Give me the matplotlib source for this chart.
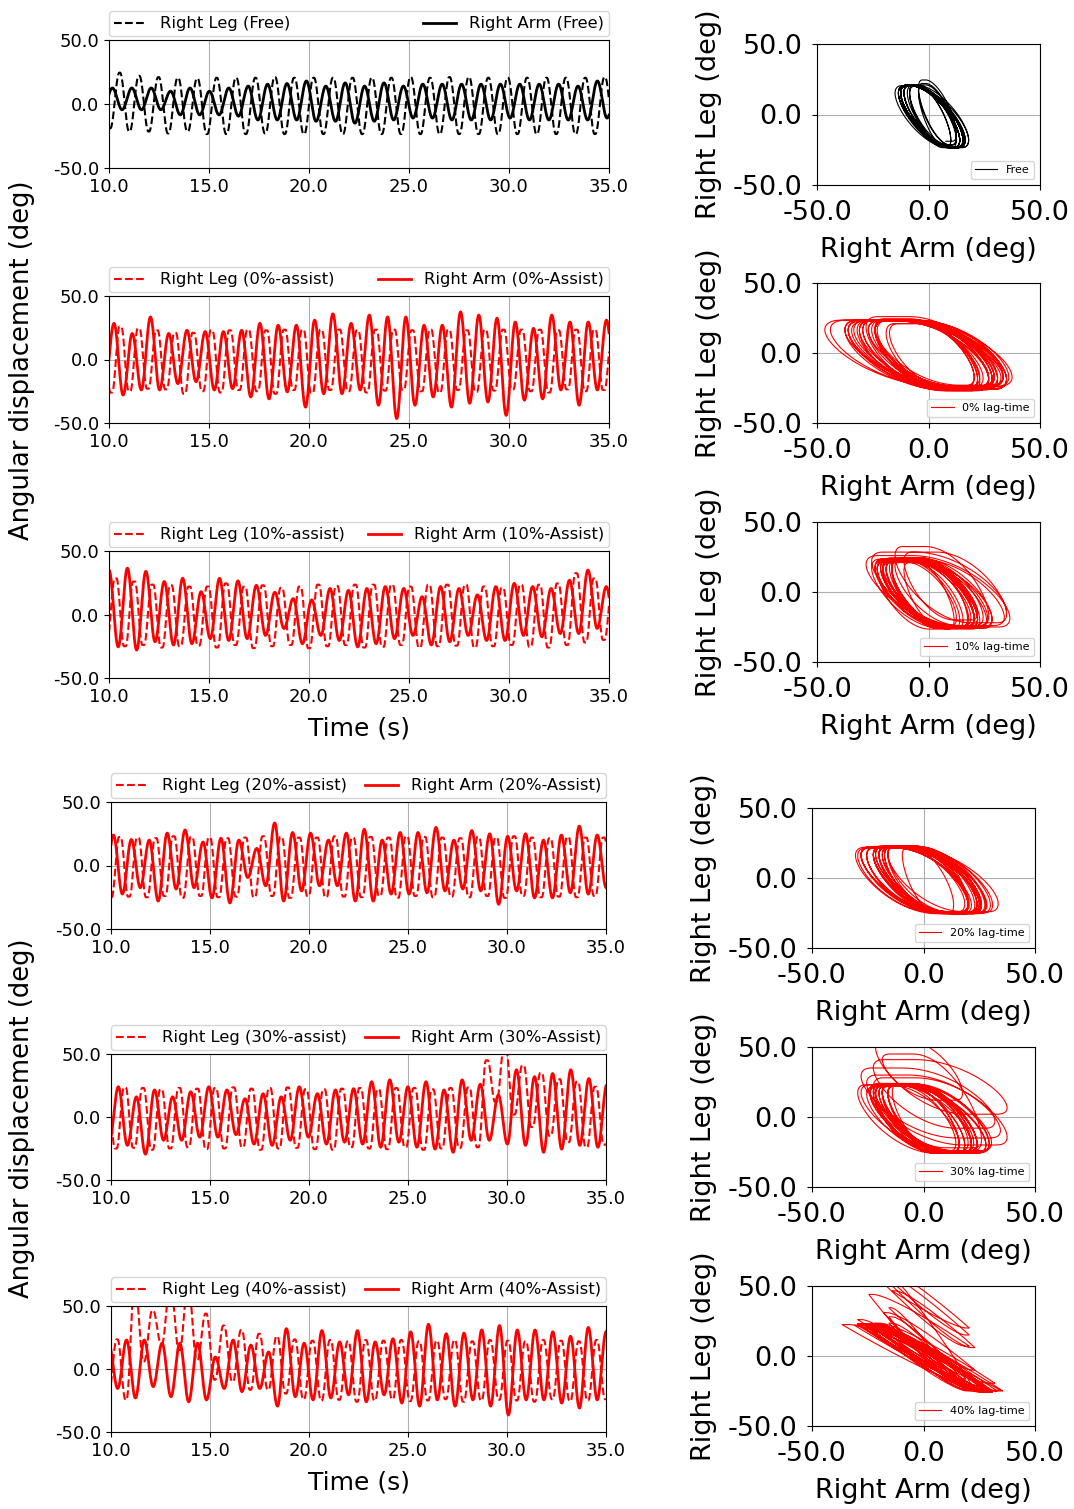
import numpy as np
import matplotlib
matplotlib.use("Agg")
import matplotlib.pyplot as plt
from matplotlib.ticker import FormatStrFormatter

# Gait traces (deg).
# Each trace: troughs (lo) and peaks (hi) alternate, lo first, starting at t0,
# half a stride period apart.
conditions = ["Free", "0%", "10%", "20%", "30%", "40%"]
leg_labels = ["Right Leg (Free)", "Right Leg (0%-assist)", "Right Leg (10%-assist)",
              "Right Leg (20%-assist)", "Right Leg (30%-assist)", "Right Leg (40%-assist)"]
arm_labels = ["Right Arm (Free)", "Right Arm (0%-Assist)", "Right Arm (10%-Assist)",
              "Right Arm (20%-Assist)", "Right Arm (30%-Assist)", "Right Arm (40%-Assist)"]
phase_labels = ["Free", "0% lag-time", "10% lag-time", "20% lag-time", "30% lag-time", "40% lag-time"]
periods = [0.97, 0.912, 0.921, 0.905, 0.914, 0.897]
arm_t0 = [9.685, 9.794, 9.54, 9.67, 9.913, 9.44]
leg_t0 = [10.05, 9.202, 9.87, 9.09, 9.329, 9.86]
# fraction of each half-stride the leg stays near its extreme (flattish tops)
leg_dwell = [0.04, 0.1, 0.1, 0.1, 0.1, 0.06]

free_arm_lo = [-5, -4.5, -4.5, -4.5, -8.5, -8.5, -8.5, -9.5, -12.5, -12.5, -12.5, -13.5, -13.5, -15,
               -13.5, -12.5, -11, -11, -12.5, -12.5, -12.5, -11, -12.5, -12.5, -12.5, -12.5, -11]
free_arm_hi = [12.5, 12.5, 12.5, 10, 12.5, 10, 12.5, 14, 15.5, 16, 18, 14, 16.5, 14, 16.5, 14,
               15.5, 15.5, 15.5, 15.5, 15.5, 15.5, 15.5, 15.5, 14, 18, 14]
free_leg_lo = [-19, -21.5, -21.5, -23, -21.5, -23.5, -23.5, -23.5, -23, -23.5, -23.5, -23.5, -23.5,
               -23.5, -23.5, -23.5, -23.5, -23.5, -23.5, -23.5, -23.5, -23.5, -23.5, -23.5, -23.5, -23.5, -23]
free_leg_hi = [24.5, 22, 21, 20.5, 20, 20.5, 20.5, 20.5, 21, 20.5, 20.5, 20.5, 20.5, 20.5, 20.5,
               21, 20.5, 21, 21, 20.5, 20.5, 20.5, 20.5, 20.5, 20.5, 21]

a0_arm_lo = [-20, -28, -24, -24, -19, -17.5, -24, -23, -29.5, -31, -25.5, -37.5, -27, -27, -24,
             -36, -46.5, -36, -29.5, -37.5, -34.5, -33.5, -44, -32, -31, -24, -36, -24, -25]
a0_arm_hi = [28.5, 20.5, 33.5, 20.5, 23, 22, 22, 23, 28.5, 27, 27, 31, 36, 28.5, 35, 33.5, 33.5,
             27, 27, 37.5, 35, 32.5, 29.5, 24.5, 35, 29.5, 29.5, 31]
a0_leg_lo = [-24, -26, -25, -23, -23.5, -27, -25, -26, -24, -25, -27, -24, -26.5, -24, -25, -26,
             -24.5, -24, -25, -26, -24, -25.5, -24.5, -23.5, -25, -26, -23.5, -25, -24]
a0_leg_hi = [22, 26, 24.5, 23, 21, 21, 23, 23, 23.5, 23, 23.5, 23.5, 23.5, 23.5, 23, 23.5, 23.5,
             23, 23.5, 23.5, 23, 23.5, 23.5, 23.5, 23.5, 23, 23.5, 23.5, 23]

a10_arm_lo = [-15, -25.5, -28, -21.5, -24, -23, -19, -20.5, -19, -16.5, -11, -23, -16.5, -20.5,
              -25.5, -23, -19, -16.5, -24, -21.5, -16.5, -20.5, -20.5, -16.5, -17.5, -15, -15, -11, -20]
a10_arm_hi = [35, 36.5, 34, 26, 28.5, 18, 28.5, 26.5, 23, 17.5, 12.5, 11.5, 20.5, 19, 20.5, 22,
              20.5, 14, 22, 20.5, 15.5, 22, 24.5, 22, 20.5, 27, 35, 22]
a10_leg_lo = [-20, -25, -24, -26, -25, -24.5, -26, -24, -26.5, -25, -24, -26.5, -25, -24, -26,
              -25.5, -24, -26, -25, -24.5, -26, -25, -24, -25.5, -26, -24, -22, -20]
a10_leg_hi = [28.5, 26, 23.5, 23, 22, 22, 24.5, 22, 23, 21, 22, 23.5, 22.5, 23.5, 23.5, 23.5, 22,
              23.5, 23.5, 23.5, 22, 21, 23.5, 23.5, 24.5, 32.5, 28.5, 22]

a20_arm_lo = [-20, -22.5, -17.5, -28, -18.5, -17.5, -25.5, -29.5, -9.5, -16, -28, -20, -16, -16,
              -28, -28, -22.5, -22.5, -21.5, -20, -18.5, -20, -30.5, -20, -25.5, -25.5, -21.5, -22.5, -17.5]
a20_arm_hi = [24, 20.5, 20, 25.5, 28, 18.5, 21.5, 20, 13.5, 33.5, 26, 25.5, 20, 25.5, 28.5, 20,
              26, 26, 30, 20, 27.5, 25, 23, 25, 20, 24, 31, 24]
a20_leg_lo = [-24, -25, -24.5, -25, -24, -25.5, -24, -25, -24.5, -25, -24, -25.5, -24, -25, -24.5,
              -25, -24, -25.5, -24, -25, -24.5, -25, -24, -25.5, -24, -25, -24.5, -25, -24, -24.5]
a20_leg_hi = [22, 22.5, 22, 21.5, 23, 22.5, 22, 21.5, 22, 23, 22.5, 22, 22, 23, 22, 22.5, 22, 23,
              22.5, 22, 21.5, 22.5, 22, 23, 22, 21.5, 22.5, 22, 22]

a30_arm_lo = [-20, -22.5, -29.5, -18.5, -18.5, -16, -16, -14, -21.5, -22.5, -18.5, -16, -21.5, -20,
              -21.5, -24, -20, -24, -25.5, -28, -18.5, -18.5, -21.5, -22.5, -28, -25.5, -22.5, -24, -20]
a30_arm_hi = [24, 16, 21.5, 16, 20, 24, 21.5, 14.5, 18.5, 16, 24, 18.5, 21.5, 22.5, 28, 29.5, 24,
              28, 21.5, 29.5, 26, 17.5, 37.5, 32, 34.5, 37.5, 30.5, 26]
a30_leg_lo = [-24, -25, -24.5, -26, -25, -24, -25.5, -25, -24, -26, -25, -24.5, -25.5, -26, -24,
              -25, -25.5, -24, -26, -25, -24.5, -24, 12, 2, -8, -15, -20, -24, -22]
a30_leg_hi = [22, 23.5, 23, 22, 23, 22.5, 23, 23.5, 22.5, 23, 23.5, 22, 22, 22.5, 23, 22, 23, 23,
              22, 23, 23.5, 45, 56, 41, 35, 30, 28, 24, 22]

a40_arm_lo = [-15, -15.5, -23, -14, -22, -26, -24.5, -15.5, -18, -15.5, -29.5, -22, -24.5, -23,
              -20.5, -26, -20.5, -27, -29.5, -24.5, -29.5, -24.5, -29.5, -36.5, -24.5, -24.5, -27, -31, -24.5, -20]
a40_arm_hi = [20, 23, 23, 20.5, 20.5, 20.5, 9.5, 23, 19, 13.5, 32, 20.5, 30.5, 21.5, 30.5, 21.5,
              24, 29.5, 35.5, 28, 28.5, 31, 34.5, 31, 31, 29.5, 26, 33, 29.5]
a40_leg_lo = [-20, -24.5, 6, 20, 15, 7, -8.5, -10, -16.5, -16.5, -19.5, -24, -25, -24.5, -26, -25,
              -24, -25.5, -25, -24, -26, -25, -24.5, -25, -26, -24, -25.5, -25, -24]
a40_leg_hi = [23.5, 65, 46.5, 65, 65, 44, 34.5, 31, 28, 26, 23.5, 22.5, 23, 22, 23, 22.5, 23, 22,
              22.5, 23, 22, 23, 22.5, 22, 23, 22.5, 22, 23, 22.5]

arm_lo = [free_arm_lo, a0_arm_lo, a10_arm_lo, a20_arm_lo, a30_arm_lo, a40_arm_lo]
arm_hi = [free_arm_hi, a0_arm_hi, a10_arm_hi, a20_arm_hi, a30_arm_hi, a40_arm_hi]
leg_lo = [free_leg_lo, a0_leg_lo, a10_leg_lo, a20_leg_lo, a30_leg_lo, a40_leg_lo]
leg_hi = [free_leg_hi, a0_leg_hi, a10_leg_hi, a20_leg_hi, a30_leg_hi, a40_leg_hi]


def trace(t0, period, lo, hi, t, dwell=0.0):
    """Join the extrema with half-cosine segments (optionally flat near the extremes)."""
    vals = np.empty(len(lo) + len(hi))
    vals[0::2] = lo
    vals[1::2] = hi
    half = period / 2.0
    knots = t0 + half * np.arange(len(vals))
    idx = np.clip(np.searchsorted(knots, t, side="right") - 1, 0, len(vals) - 2)
    s = np.clip((t - knots[idx]) / half, 0, 1)
    s = np.clip((s - dwell) / (1 - 2 * dwell), 0, 1)
    return vals[idx] + (vals[idx + 1] - vals[idx]) * (1 - np.cos(np.pi * s)) / 2


W, H = 1074, 1509


def box(l, t, r, b):
    return [l / W, 1 - b / H, (r - l) / W, (b - t) / H]


left_px = [(109, 40, 609, 168), (109, 296, 609, 423), (109, 551, 609, 678),
           (111, 802, 606, 929), (111, 1054, 606, 1180), (111, 1306, 606, 1432)]
right_px = [(817, 44, 1040, 185), (817, 283, 1040, 423), (817, 522, 1040, 662),
            (812, 808, 1035, 948), (812, 1047, 1035, 1187), (812, 1286, 1035, 1426)]

t = np.arange(10.0, 35.0 + 1e-9, 0.01)
fig = plt.figure(figsize=(W / 100, H / 100), dpi=100)

for i, cond in enumerate(conditions):
    colour = "black" if cond == "Free" else "red"
    arm = trace(arm_t0[i], periods[i], arm_lo[i], arm_hi[i], t)
    leg = trace(leg_t0[i], periods[i], leg_lo[i], leg_hi[i], t, leg_dwell[i])

    ax = fig.add_axes(box(*left_px[i]))
    ax.plot(t, leg, "--", color=colour, lw=1.5, label=leg_labels[i])
    ax.plot(t, arm, "-", color=colour, lw=2.0, label=arm_labels[i])
    ax.set_xlim(10, 35)
    ax.set_ylim(-50, 50)
    ax.set_xticks([10, 15, 20, 25, 30, 35])
    ax.set_yticks([-50, 0, 50])
    ax.xaxis.set_major_formatter(FormatStrFormatter("%.1f"))
    ax.yaxis.set_major_formatter(FormatStrFormatter("%.1f"))
    ax.tick_params(labelsize=13)
    ax.grid(True, color="#b0b0b0", lw=0.8)
    ax.legend(loc="lower left", bbox_to_anchor=(0, 1.03, 1, 0.2), ncol=2, mode="expand",
              borderaxespad=0, fontsize=11.8, borderpad=0.3)
    if i in (2, 5):
        ax.set_xlabel("Time (s)", fontsize=18, labelpad=8)

    bx = fig.add_axes(box(*right_px[i]))
    bx.plot(arm, leg, color=colour, lw=0.8, label=phase_labels[i])
    bx.set_xlim(-50, 50)
    bx.set_ylim(-50, 50)
    bx.set_xticks([-50, 0, 50])
    bx.set_yticks([-50, 0, 50])
    bx.xaxis.set_major_formatter(FormatStrFormatter("%.1f"))
    bx.yaxis.set_major_formatter(FormatStrFormatter("%.1f"))
    bx.tick_params(labelsize=19.5, pad=7)
    bx.grid(True, color="#b0b0b0", lw=0.8)
    bx.set_xlabel("Right Arm (deg)", fontsize=19.5, labelpad=8)
    bx.set_ylabel("Right Leg (deg)", fontsize=19.5, labelpad=8)
    bx.legend(loc="lower right", fontsize=8)

fig.text(22 / W, 1 - 360 / H, "Angular displacement (deg)", rotation=90,
         ha="center", va="center", fontsize=18.5)
fig.text(22 / W, 1 - 1118 / H, "Angular displacement (deg)", rotation=90,
         ha="center", va="center", fontsize=18.5)

fig.savefig("out.png", dpi=100)
